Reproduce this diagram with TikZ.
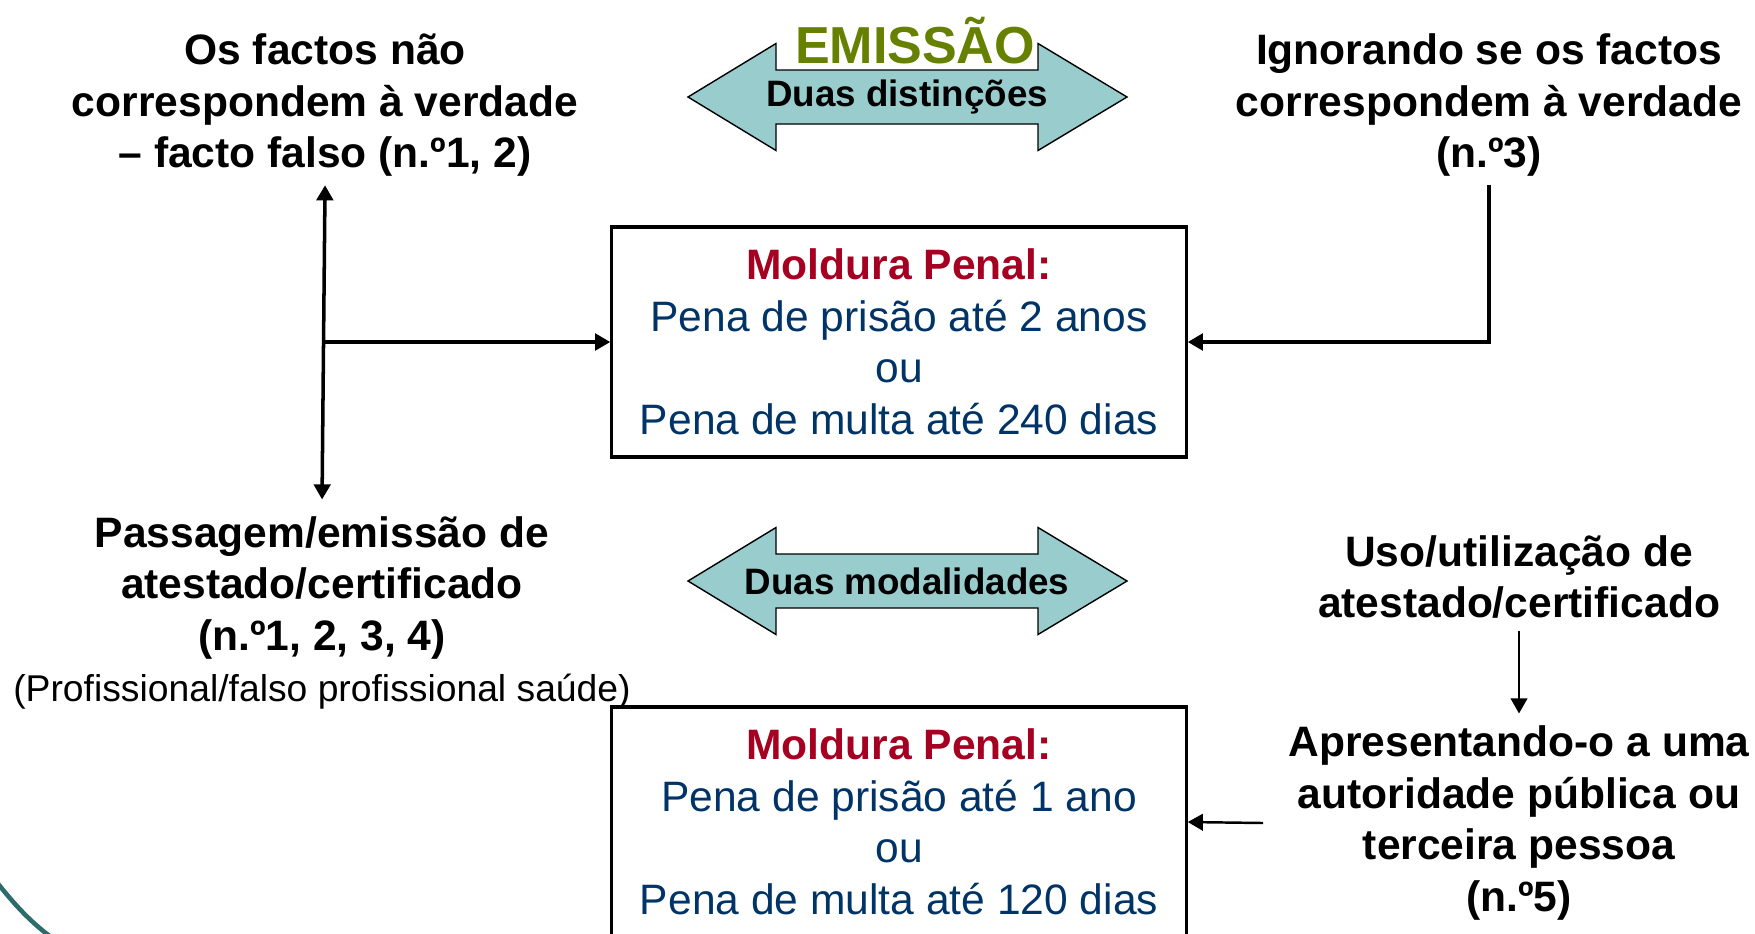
\documentclass[tikz,border=0pt]{standalone}
\usepackage{fontspec}
\setmainfont{Liberation Sans}
\usetikzlibrary{arrows.meta,calc}

\definecolor{emigreen}{RGB}{102,128,0}
\definecolor{penared}{RGB}{165,0,33}
\definecolor{penablue}{RGB}{0,51,102}
\definecolor{arrowteal}{RGB}{153,204,204}
\definecolor{cornerteal}{RGB}{46,107,107}

\begin{document}
\begin{tikzpicture}[x=0.01cm,y=-0.01cm,
  >={Triangle[length=4.3pt,width=4.7pt]},
  heading/.style={font=\fontsize{12.1}{14.65}\selectfont\bfseries,align=center},
  tag/.style={font=\fontsize{10.45}{12}\selectfont\bfseries},
  penabox/.style={draw,line width=0.9pt,minimum width=5.74cm,minimum height=2.3cm,
    align=center,text=penablue,font=\fontsize{12.1}{14.65}\selectfont},
  twoway/.style={draw,line width=0.4pt,fill=arrowteal},
  conn/.style={line width=1pt},
  thinconn/.style={line width=0.7pt}]
\useasboundingbox (0,0) rectangle (1755,933);

% corner decoration
\draw[cornerteal,line width=1.3pt] (-5,880) .. controls (15,905) and (30,922) .. (55,940);

% the two double arrows
\draw[twoway] (688,97) -- ++(88,-53.5) -- ++(0,26.5) -- ++(262,0) -- ++(0,-26.5)
  -- ++(89,53.5) -- ++(-89,53.5) -- ++(0,-26.5) -- ++(-262,0) -- ++(0,26.5) -- cycle;
\draw[twoway] (688,581) -- ++(88,-53.5) -- ++(0,26.5) -- ++(262,0) -- ++(0,-26.5)
  -- ++(89,53.5) -- ++(-89,53.5) -- ++(0,-26.5) -- ++(-262,0) -- ++(0,26.5) -- cycle;
\node[tag] (distincoes) at (907,97) {Duas distinções};
\node[tag] (modalidades) at (907,581) {Duas modalidades};
\node[anchor=base,text=emigreen,font=\fontsize{14.8}{17}\selectfont\bfseries] (emissao) at (915,63) {EMISSÃO};

% texts
\node[heading] (falso) at (325,105) {Os factos não\\correspondem à verdade\\– facto falso (n.º1, 2)};
\node[heading] (ignora) at (1489,105) {Ignorando se os factos\\correspondem à verdade\\(n.º3)};
\node[heading] (passagem) at (322,613) {Passagem/emissão de\\atestado/certificado\\(n.º1, 2, 3, 4)\\
  {\mdseries\fontsize{10.6}{14.65}\selectfont(Profissional/falso profissional saúde)}};
\node[heading] (uso) at (1519,577) {Uso/utilização de\\atestado/certificado};
\node[heading] (apres) at (1519,823) {Apresentando-o a uma\\autoridade pública ou\\terceira pessoa\\(n.º5)};

% boxes
\node[penabox] (pena1) at (899,342) {\textcolor{penared}{\bfseries Moldura Penal:}\\Pena de prisão até 2 anos\\ou\\Pena de multa até 240 dias};
\node[penabox] (pena2) at (899,822) {\textcolor{penared}{\bfseries Moldura Penal:}\\Pena de prisão até 1 ano\\ou\\Pena de multa até 120 dias};

% connectors
\draw[conn,<->,shorten <=-1pt,shorten >=1.3pt] (falso.south) -- (passagem.north);
\coordinate (jn) at (falso.south |- pena1.west);
\draw[conn,->] (jn) -- (pena1.west);
\draw[conn,->,shorten <=-1pt] (ignora.south) |- (pena1.east);
\draw[thinconn,->] (uso.south) -- (apres.north);
\coordinate (apresout) at (1263,823);
\draw[thinconn,->] (apresout) -- (pena2.east);
\end{tikzpicture}
\end{document}
